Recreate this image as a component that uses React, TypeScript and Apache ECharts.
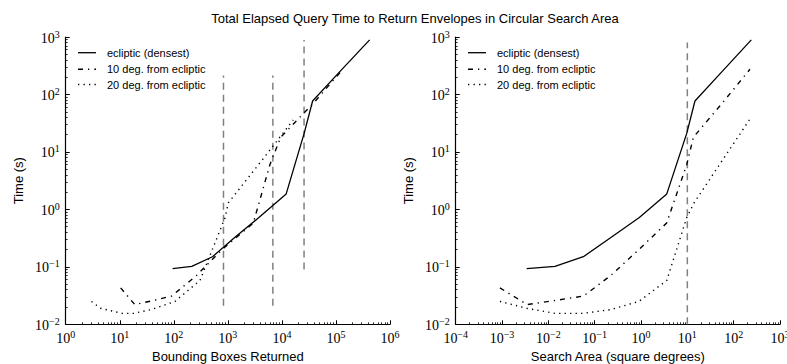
import React, { useEffect, useRef } from 'react';
import * as echarts from 'echarts';

const seriesNames = ['ecliptic (densest)', '10 deg. from ecliptic', '20 deg. from ecliptic'];

const eclipticBoxes = [95, 215, 520, 1320, 3750, 12000, 25800, 37000, 118000, 420000];
const eclipticArea = [0.0034, 0.0139, 0.057, 0.22, 0.92, 3.6, 9.7, 14.6, 56, 240];
const eclipticTime = [0.093, 0.102, 0.15, 0.32, 0.72, 1.86, 21, 77, 250, 890];

const deg10Boxes = [10.4, 19, 42, 91, 260, 780, 2960, 6000, 9500, 38000, 135000];
const deg10Area = [0.0009, 0.0035, 0.014, 0.057, 0.22, 0.9, 3.58, 9.7, 13.5, 56, 225];
const deg10Time = [0.043, 0.022, 0.026, 0.031, 0.07, 0.2, 0.58, 6, 18, 70, 275];

const deg20Boxes = [3.0, 4.4, 11, 18, 38, 105, 305, 890, 1020, 4200, 16200];
const deg20Area = [0.0009, 0.0034, 0.014, 0.057, 0.22, 0.9, 3.6, 9.7, 14, 56, 218];
const deg20Time = [0.025, 0.019, 0.0155, 0.0155, 0.018, 0.025, 0.058, 0.72, 1.3, 7, 36];

const boxMarkerX = [830, 6800, 25700];
const boxMarkerYMin = [0.021, 0.021, 0.09];
const boxMarkerYMax = [214, 214, 890];
const areaMarkerX = [10];
const areaMarkerYMin = [0.01];
const areaMarkerYMax = [800];

const leftXRange = [1, 1e6];
const rightXRange = [1e-4, 1e3];
const yRange = [1e-2, 1e3];

const titleText = 'Total Elapsed Query Time to Return Envelopes in Circular Search Area';
const leftXName = 'Bounding Boxes Returned';
const rightXName = 'Search Area (square degrees)';
const yName = 'Time (s)';

const SANS = 'Liberation Sans';
const SERIF = 'Liberation Serif';

const lineStyles = [
  { color: '#000', width: 1.3, type: 'solid' },
  { color: '#000', width: 1.4, type: [5, 5, 1.3, 5] },
  { color: '#000', width: 1.4, type: [1.3, 4.2] },
];

function zip(xs: number[], ys: number[]) {
  return xs.map((x, i) => [x, ys[i]]);
}

function minorValues(min: number, max: number) {
  const out: number[] = [];
  const e0 = Math.round(Math.log10(min));
  const e1 = Math.round(Math.log10(max));
  for (let e = e0; e < e1; e++) {
    for (let m = 2; m <= 9; m++) out.push(parseFloat((m * Math.pow(10, e)).toPrecision(6)));
  }
  return out;
}

const rich = {
  b: { fontFamily: SERIF, fontSize: 14, color: '#000', verticalAlign: 'bottom', lineHeight: 16 },
  e: { fontFamily: SERIF, fontSize: 10, color: '#000', verticalAlign: 'top', lineHeight: 10 },
};

function sup(v: number) {
  const e = Math.round(Math.log10(v));
  const s = e < 0 ? '\u2212' + String(-e) : String(e);
  return `{b|10}{e|${s}}`;
}

function mainAxis(gridIndex: number, range: number[], position: string, name: string, isY: boolean) {
  return {
    type: 'log',
    logBase: 10,
    gridIndex,
    min: range[0],
    max: range[1],
    position,
    name,
    nameLocation: 'middle',
    nameGap: isY ? 41 : 21,
    nameTextStyle: { fontFamily: SANS, fontSize: 13, color: '#000' },
    axisLine: { show: true, onZero: false, lineStyle: { color: '#000', width: 1.2 } },
    axisTick: { show: true, inside: true, length: 4, lineStyle: { color: '#000', width: 1 } },
    axisLabel: { formatter: sup, rich, margin: isY ? 6 : 5 },
    splitLine: { show: false },
    minorTick: { show: false },
  };
}

function minorAxis(gridIndex: number, range: number[], position: string) {
  return {
    type: 'log',
    logBase: 10,
    gridIndex,
    min: range[0],
    max: range[1],
    position,
    axisLine: { show: false, onZero: false },
    axisTick: {
      show: true,
      inside: true,
      length: 2,
      customValues: minorValues(range[0], range[1]),
      lineStyle: { color: '#000', width: 0.8 },
    },
    axisLabel: { show: false },
    splitLine: { show: false },
  };
}

function legendGraphic(offsetX: number) {
  const rows = [52.7, 69.3, 84.5];
  const els: any[] = [];
  rows.forEach((y, i) => {
    els.push({
      type: 'line',
      shape: { x1: offsetX + 78, y1: y, x2: offsetX + 96, y2: y },
      style: { stroke: '#000', lineWidth: lineStyles[i].width, lineDash: lineStyles[i].type === 'solid' ? null : lineStyles[i].type },
      silent: true,
    });
    els.push({
      type: 'text',
      x: offsetX + 107,
      y,
      style: { text: seriesNames[i], fill: '#000', font: `11px "${SANS}"`, textVerticalAlign: 'middle', verticalAlign: 'middle' },
      silent: true,
    });
  });
  return els;
}

export default function App() {
  const ref = useRef<HTMLDivElement>(null);
  useEffect(() => {
    if (!ref.current) return;
    const chart = echarts.init(ref.current, undefined, { renderer: 'svg' });

    const curves = [
      { boxes: eclipticBoxes, area: eclipticArea, time: eclipticTime },
      { boxes: deg10Boxes, area: deg10Area, time: deg10Time },
      { boxes: deg20Boxes, area: deg20Area, time: deg20Time },
    ];

    const series: any[] = [];
    const markerStyle = { color: '#808080', width: 1.5, type: [7, 5] };
    boxMarkerX.forEach((x, i) => {
      series.push({
        type: 'line', xAxisIndex: 0, yAxisIndex: 0, symbol: 'none', silent: true, z: 1,
        data: [[x, boxMarkerYMin[i]], [x, boxMarkerYMax[i]]], lineStyle: markerStyle,
      });
    });
    areaMarkerX.forEach((x, i) => {
      series.push({
        type: 'line', xAxisIndex: 2, yAxisIndex: 2, symbol: 'none', silent: true, z: 1,
        data: [[x, areaMarkerYMin[i]], [x, areaMarkerYMax[i]]], lineStyle: markerStyle,
      });
    });
    curves.forEach((c, i) => {
      series.push({
        name: seriesNames[i], type: 'line', xAxisIndex: 0, yAxisIndex: 0, symbol: 'none', z: 3,
        data: zip(c.boxes, c.time), lineStyle: lineStyles[i],
      });
      series.push({
        name: seriesNames[i], type: 'line', xAxisIndex: 2, yAxisIndex: 2, symbol: 'none', z: 3,
        data: zip(c.area, c.time), lineStyle: lineStyles[i],
      });
    });

    chart.setOption({
      animation: false,
      backgroundColor: '#fff',
      title: {
        text: titleText,
        left: 410,
        top: 7,
        textAlign: 'center',
        textStyle: { fontFamily: SANS, fontSize: 13, fontWeight: 'normal', color: '#000' },
      },
      grid: [
        { left: 65.7, top: 37, width: 324.3, height: 287.3, outerBoundsMode: 'none', containLabel: false },
        { left: 455.7, top: 37, width: 324.3, height: 287.3, outerBoundsMode: 'none', containLabel: false },
      ],
      xAxis: [
        mainAxis(0, leftXRange, 'bottom', leftXName, false),
        minorAxis(0, leftXRange, 'bottom'),
        mainAxis(1, rightXRange, 'bottom', rightXName, false),
        minorAxis(1, rightXRange, 'bottom'),
      ],
      yAxis: [
        mainAxis(0, yRange, 'left', yName, true),
        minorAxis(0, yRange, 'left'),
        mainAxis(1, yRange, 'left', yName, true),
        minorAxis(1, yRange, 'left'),
      ],
      graphic: [...legendGraphic(0), ...legendGraphic(390)],
      series,
    });
    return () => chart.dispose();
  }, []);
  return <div ref={ref} style={{ position: 'absolute', left: 0, top: 0, width: 787, height: 364 }} />;
}
